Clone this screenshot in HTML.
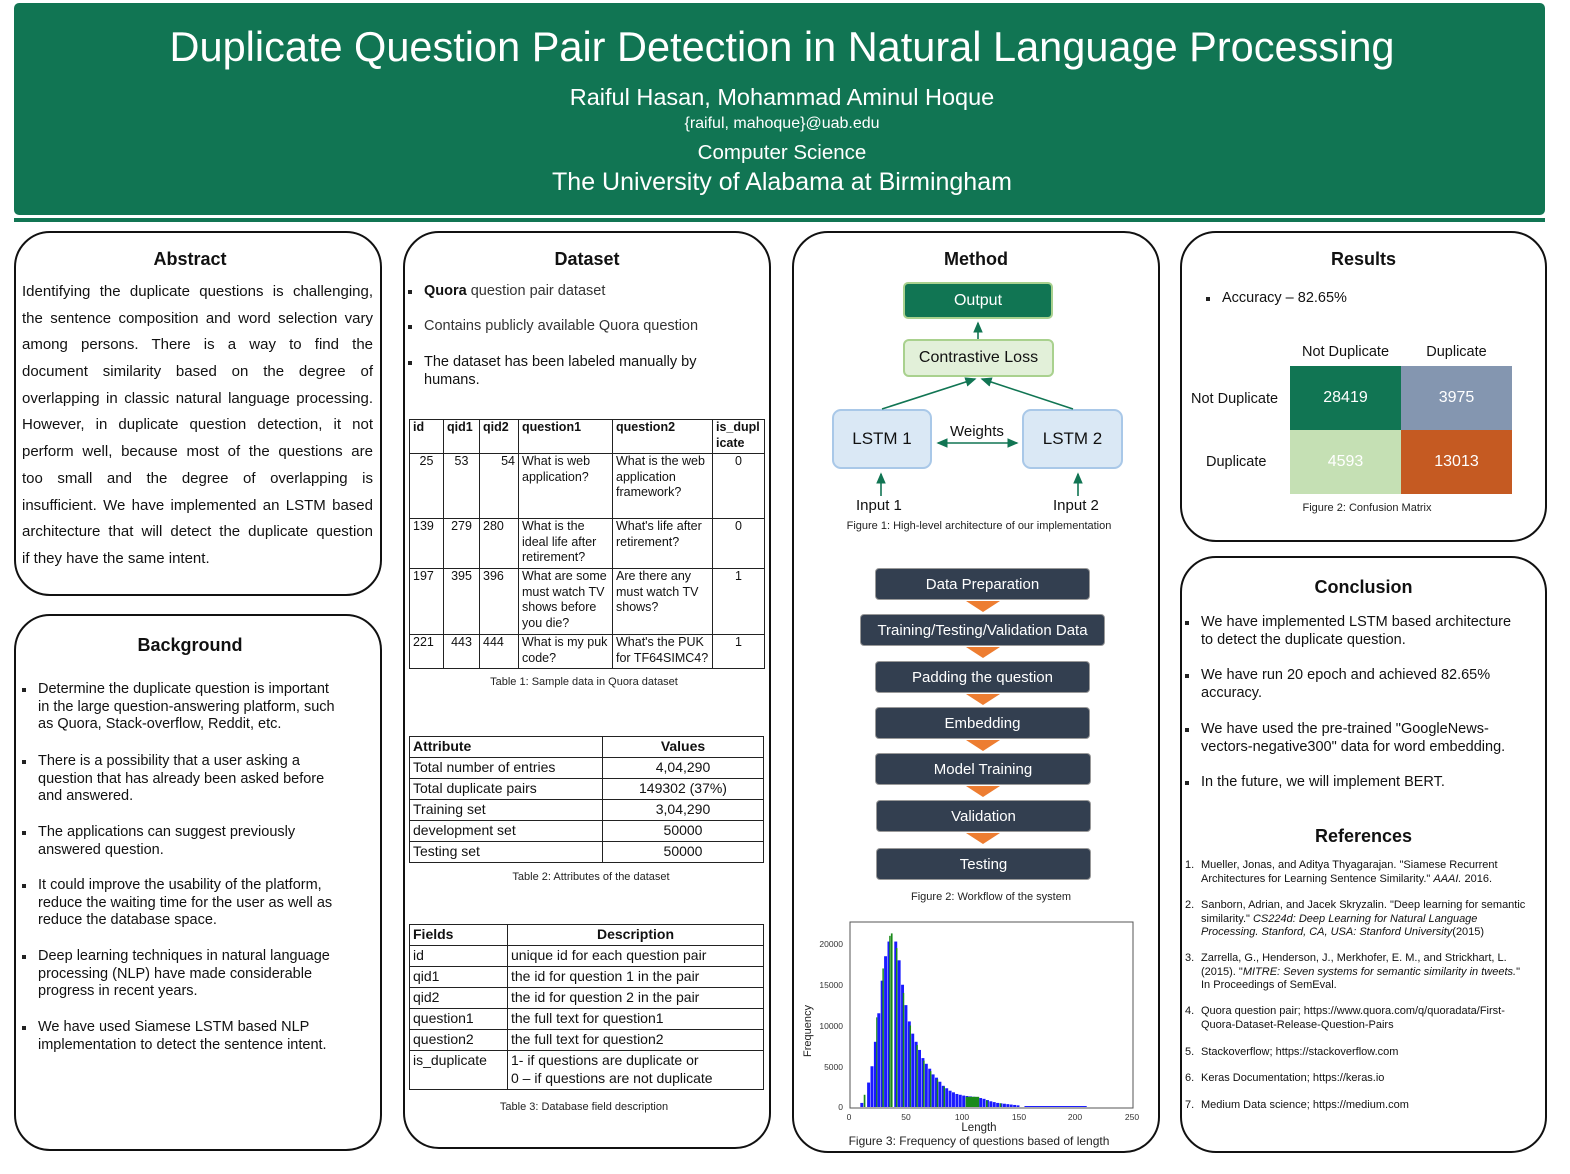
<!DOCTYPE html>
<html><head><meta charset="utf-8"><style>
*{margin:0;padding:0;box-sizing:border-box}
body{width:1570px;height:1174px;background:#fff;position:relative;overflow:hidden;font-family:"Liberation Sans",sans-serif;color:#111}
.a{position:absolute;white-space:nowrap}
.panel{position:absolute;border:2.5px solid #111;border-radius:36px}
.h{position:absolute;font-weight:bold;font-size:18px;text-align:center;line-height:20px}
.c{text-align:center}
.bul{position:absolute;font-size:14.5px;line-height:17.5px}
.bul:before{content:"";position:absolute;left:-16px;top:7px;width:4px;height:4px;background:#222}
table{border-collapse:collapse;position:absolute}
td{border:1px solid #222;vertical-align:top;padding:0 3px}
.wf{position:absolute;background:#333f50;color:#fff;font-size:15px;text-align:center;border-radius:4px;line-height:32px;height:32px;border:1px solid #999}
.tri{position:absolute;left:966px;width:0;height:0;border-left:17px solid transparent;border-right:17px solid transparent;border-top:11px solid #ed7d31}
.cap{position:absolute;font-size:11px;text-align:center;color:#222}
.ab div{text-align:justify;text-align-last:justify;height:26.7px;line-height:26.7px}
.ref{position:absolute;font-size:11px;line-height:13.5px;left:1201px;white-space:nowrap}
.ref span{position:absolute;left:-16px}
</style></head><body>
<div class="a" style="left:14px;top:3px;width:1531px;height:212px;background:#117553;border-radius:5px"></div>
<div class="a" style="left:14px;top:218px;width:1531px;height:4px;background:#117553"></div>
<div class="a c" style="left:14px;width:1536px;top:23px;font-size:41.5px;color:#fff;line-height:48px">Duplicate Question Pair Detection in Natural Language Processing</div>
<div class="a c" style="left:14px;width:1536px;top:83px;font-size:23.5px;color:#fff;line-height:28px">Raiful Hasan, Mohammad Aminul Hoque</div>
<div class="a c" style="left:14px;width:1536px;top:114px;font-size:16px;color:#fff;line-height:20px">{raiful, mahoque}@uab.edu</div>
<div class="a c" style="left:14px;width:1536px;top:141px;font-size:20.5px;color:#fff;line-height:24px">Computer Science</div>
<div class="a c" style="left:14px;width:1536px;top:167px;font-size:25px;color:#fff;line-height:30px">The University of Alabama at Birmingham</div>

<div class="panel" style="left:14px;top:231px;width:368px;height:365px"></div>
<div class="panel" style="left:14px;top:614px;width:368px;height:537px"></div>
<div class="panel" style="left:403px;top:231px;width:368px;height:918px"></div>
<div class="panel" style="left:792px;top:231px;width:368px;height:922px"></div>
<div class="panel" style="left:1180px;top:231px;width:367px;height:311px"></div>
<div class="panel" style="left:1180px;top:556px;width:367px;height:597px"></div>

<div class="h" style="left:6px;width:368px;top:249px">Abstract</div>
<div class="a ab" style="left:22px;top:279px;width:351px;font-size:15px;white-space:normal">
<div>Identifying the duplicate questions is challenging,</div>
<div>the sentence composition and word selection vary</div>
<div>among persons. There is a way to find the</div>
<div>document similarity based on the degree of</div>
<div>overlapping in classic natural language processing.</div>
<div>However, in duplicate question detection, it not</div>
<div>perform well, because most of the questions are</div>
<div>too small and the degree of overlapping is</div>
<div>insufficient. We have implemented an LSTM based</div>
<div>architecture that will detect the duplicate question</div>
<div style="text-align-last:left">if they have the same intent.</div>
</div>

<div class="h" style="left:6px;width:368px;top:635px">Background</div>
<div class="bul" style="left:38px;top:681px">Determine the duplicate question is important<br>in the large question-answering platform, such<br>as Quora, Stack-overflow, Reddit, etc.</div>
<div class="bul" style="left:38px;top:753px">There is a possibility that a user asking a<br>question that has already been asked before<br>and answered.</div>
<div class="bul" style="left:38px;top:824px">The applications can suggest previously<br>answered question.</div>
<div class="bul" style="left:38px;top:877px">It could improve the usability of the platform,<br>reduce the waiting time for the user as well as<br>reduce the database space.</div>
<div class="bul" style="left:38px;top:948px">Deep learning techniques in natural language<br>processing (NLP) have made considerable<br>progress in recent years.</div>
<div class="bul" style="left:38px;top:1019px">We have used Siamese LSTM based NLP<br>implementation to detect the sentence intent.</div>

<div class="h" style="left:403px;width:368px;top:249px">Dataset</div>
<div class="bul" style="left:424px;top:283px;color:#333"><b style="color:#111">Quora</b> question pair dataset</div>
<div class="bul" style="left:424px;top:318px;color:#333">Contains publicly available Quora question</div>
<div class="bul" style="left:424px;top:354px">The dataset has been labeled manually by<br>humans.</div>

<table style="left:409px;top:419px;width:356px;font-size:12.5px;line-height:15.5px">
<tr style="height:34px;font-weight:bold"><td style="width:34px">id</td><td style="width:36px">qid1</td><td style="width:39px">qid2</td><td style="width:94px">question1</td><td style="width:100px">question2</td><td>is_dupl<br>icate</td></tr>
<tr style="height:65px"><td class="c">25</td><td class="c">53</td><td style="text-align:right">54</td><td>What is web application?</td><td>What is the web application framework?</td><td class="c">0</td></tr>
<tr style="height:50px"><td>139</td><td class="c">279</td><td>280</td><td>What is the ideal life after retirement?</td><td>What's life after retirement?</td><td class="c">0</td></tr>
<tr style="height:66px"><td>197</td><td class="c">395</td><td>396</td><td>What are some must watch TV shows before you die?</td><td>Are there any must watch TV shows?</td><td class="c">1</td></tr>
<tr style="height:34px"><td>221</td><td class="c">443</td><td>444</td><td>What is my puk code?</td><td>What's the PUK for TF64SIMC4?</td><td class="c">1</td></tr>
</table>
<div class="cap" style="left:403px;width:362px;top:676px">Table 1: Sample data in Quora dataset</div>

<table style="left:409px;top:736px;width:355px;font-size:14px;line-height:19px">
<tr style="font-weight:bold;height:21px"><td style="width:193px">Attribute</td><td class="c">Values</td></tr>
<tr style="height:21px"><td>Total number of entries</td><td class="c">4,04,290</td></tr>
<tr style="height:21px"><td>Total duplicate pairs</td><td class="c">149302 (37%)</td></tr>
<tr style="height:21px"><td>Training set</td><td class="c">3,04,290</td></tr>
<tr style="height:21px"><td>development set</td><td class="c">50000</td></tr>
<tr style="height:21px"><td>Testing set</td><td class="c">50000</td></tr>
</table>
<div class="cap" style="left:403px;width:376px;top:871px">Table 2: Attributes of the dataset</div>

<table style="left:409px;top:924px;width:355px;font-size:14px;line-height:18px">
<tr style="font-weight:bold;height:21px"><td style="width:98px">Fields</td><td class="c">Description</td></tr>
<tr style="height:21px"><td>id</td><td>unique id for each question pair</td></tr>
<tr style="height:21px"><td>qid1</td><td>the id for question 1 in the pair</td></tr>
<tr style="height:21px"><td>qid2</td><td>the id for question 2 in the pair</td></tr>
<tr style="height:21px"><td>question1</td><td>the full text for question1</td></tr>
<tr style="height:21px"><td>question2</td><td>the full text for question2</td></tr>
<tr style="height:39px"><td>is_duplicate</td><td>1- if questions are duplicate or<br>0 – if questions are not duplicate</td></tr>
</table>
<div class="cap" style="left:403px;width:362px;top:1101px">Table 3: Database field description</div>

<div class="h" style="left:792px;width:368px;top:249px">Method</div>
<div class="a c" style="left:903px;top:282px;width:150px;height:37px;background:#117553;border:2px solid #a9d18e;border-radius:5px;color:#fff;font-size:16px;line-height:33px">Output</div>
<div class="a c" style="left:903px;top:339px;width:151px;height:38px;background:#e2f0d9;border:2px solid #a9d18e;border-radius:6px;font-size:16px;line-height:34px">Contrastive Loss</div>
<div class="a c" style="left:832px;top:409px;width:100px;height:60px;background:#dae8f5;border:2px solid #a9c8e8;border-radius:9px;font-size:17px;line-height:56px">LSTM 1</div>
<div class="a c" style="left:1022px;top:409px;width:101px;height:60px;background:#dae8f5;border:2px solid #a9c8e8;border-radius:9px;font-size:17px;line-height:56px">LSTM 2</div>
<svg class="a" style="left:0;top:0" width="1570" height="1174">
<defs><marker id="m" markerWidth="8" markerHeight="8" refX="6" refY="4" orient="auto-start-reverse"><path d="M0,1 L7,4 L0,7z" fill="#117553"/></marker></defs>
<g stroke="#117553" stroke-width="1.6" fill="none">
<line x1="978" y1="339" x2="978" y2="323" marker-end="url(#m)"/>
<line x1="882" y1="409" x2="975" y2="379" marker-end="url(#m)"/>
<line x1="1073" y1="409" x2="982" y2="379" marker-end="url(#m)"/>
<line x1="938" y1="443" x2="1017" y2="443" marker-start="url(#m)" marker-end="url(#m)"/>
<line x1="881" y1="496" x2="881" y2="474" marker-end="url(#m)"/>
<line x1="1078" y1="496" x2="1078" y2="474" marker-end="url(#m)"/>
</g>
<rect x="850" y="922" width="283" height="186" fill="none" stroke="#555" stroke-width="1"/>
<g transform="translate(849,1107) scale(1.132,-8.15)">
<g fill="#1a1aff">
<rect x="10" y="0" width="2.6" height="0.5"/><rect x="16" y="0" width="2.6" height="3"/><rect x="22" y="0" width="2.6" height="8"/><rect x="28" y="0" width="2.6" height="15.5"/><rect x="34" y="0" width="2.6" height="20.3"/><rect x="40" y="0" width="2.6" height="20.3"/><rect x="46" y="0" width="2.6" height="15"/><rect x="52" y="0" width="2.6" height="10.5"/><rect x="58" y="0" width="2.6" height="8"/><rect x="64" y="0" width="2.6" height="6"/><rect x="70" y="0" width="2.6" height="4.7"/><rect x="76" y="0" width="2.6" height="3.6"/><rect x="82" y="0" width="2.6" height="2.6"/><rect x="88" y="0" width="2.6" height="2"/><rect x="94" y="0" width="2.6" height="1.6"/><rect x="100" y="0" width="2.6" height="1.4"/><rect x="106" y="0" width="2.6" height="1.3"/><rect x="112" y="0" width="2.6" height="1.2"/><rect x="118" y="0" width="2.6" height="1"/><rect x="124" y="0" width="2.6" height="0.7"/><rect x="130" y="0" width="2.6" height="0.5"/><rect x="136" y="0" width="2.6" height="0.4"/><rect x="142" y="0" width="2.6" height="0.3"/><rect x="148" y="0" width="2.6" height="0.2"/><rect x="155" y="0" width="55" height="0.12"/>
<rect x="19" y="0" width="2.6" height="5"/><rect x="25" y="0" width="2.6" height="11.5"/><rect x="31" y="0" width="2.6" height="18.5"/><rect x="43" y="0" width="2.6" height="18"/><rect x="49" y="0" width="2.6" height="12.5"/><rect x="55" y="0" width="2.6" height="9"/><rect x="61" y="0" width="2.6" height="7"/><rect x="67" y="0" width="2.6" height="5.3"/><rect x="73" y="0" width="2.6" height="4"/><rect x="79" y="0" width="2.6" height="3.1"/><rect x="85" y="0" width="2.6" height="2.3"/><rect x="91" y="0" width="2.6" height="1.8"/><rect x="97" y="0" width="2.6" height="1.5"/><rect x="103" y="0" width="2.6" height="1.35"/><rect x="109" y="0" width="2.6" height="1.25"/><rect x="115" y="0" width="2.6" height="1.1"/><rect x="121" y="0" width="2.6" height="0.85"/><rect x="127" y="0" width="2.6" height="0.6"/><rect x="133" y="0" width="2.6" height="0.45"/><rect x="139" y="0" width="2.6" height="0.35"/><rect x="145" y="0" width="2.6" height="0.25"/>
</g>
<g fill="#1a8a1a">
<rect x="13" y="0" width="1.5" height="1.5"/><rect x="24" y="0" width="1" height="11"/><rect x="29.5" y="0" width="1.3" height="17"/><rect x="35.5" y="0" width="1.3" height="21"/><rect x="37" y="0" width="1.5" height="21.3"/><rect x="41.5" y="0" width="1.3" height="19.5"/><rect x="47.5" y="0" width="1.3" height="14"/><rect x="53.5" y="0" width="1.3" height="10"/><rect x="59.5" y="0" width="1.3" height="7.6"/><rect x="65.5" y="0" width="1.3" height="5.7"/><rect x="71.5" y="0" width="1.3" height="4.4"/><rect x="77.5" y="0" width="1.3" height="3.4"/><rect x="83.5" y="0" width="1.3" height="2.5"/><rect x="103" y="0" width="12" height="1.25"/><rect x="121" y="0" width="1.5" height="0.8"/><rect x="133" y="0" width="1.5" height="0.45"/>
</g></g>
<g font-family="Liberation Sans" font-size="8.5" fill="#333">
<text x="843" y="947" text-anchor="end">20000</text><text x="843" y="988" text-anchor="end">15000</text><text x="843" y="1029" text-anchor="end">10000</text><text x="843" y="1070" text-anchor="end">5000</text><text x="843" y="1110" text-anchor="end">0</text>
<text x="849" y="1120" text-anchor="middle">0</text><text x="906" y="1120" text-anchor="middle">50</text><text x="962" y="1120" text-anchor="middle">100</text><text x="1019" y="1120" text-anchor="middle">150</text><text x="1075" y="1120" text-anchor="middle">200</text><text x="1132" y="1120" text-anchor="middle">250</text>
</g>
<text x="979" y="1131" font-family="Liberation Sans" font-size="11.5" text-anchor="middle" fill="#222">Length</text>
<text transform="translate(811,1031) rotate(-90)" font-family="Liberation Sans" font-size="11" text-anchor="middle" fill="#222">Frequency</text>
</svg>
<div class="a" style="left:950px;top:423px;font-size:15px">Weights</div>
<div class="a" style="left:856px;top:497px;font-size:15px">Input 1</div>
<div class="a" style="left:1053px;top:497px;font-size:15px">Input 2</div>
<div class="cap" style="left:792px;width:374px;top:520px">Figure 1: High-level architecture of our implementation</div>

<div class="wf" style="left:875px;top:568px;width:215px">Data Preparation</div>
<div class="tri" style="top:601px"></div>
<div class="wf" style="left:860px;top:614px;width:245px">Training/Testing/Validation Data</div>
<div class="tri" style="top:647px"></div>
<div class="wf" style="left:875px;top:661px;width:215px">Padding the question</div>
<div class="tri" style="top:694px"></div>
<div class="wf" style="left:875px;top:707px;width:215px">Embedding</div>
<div class="tri" style="top:740px"></div>
<div class="wf" style="left:875px;top:753px;width:216px">Model Training</div>
<div class="tri" style="top:786px"></div>
<div class="wf" style="left:876px;top:800px;width:215px">Validation</div>
<div class="tri" style="top:833px"></div>
<div class="wf" style="left:876px;top:848px;width:215px">Testing</div>
<div class="cap" style="left:792px;width:398px;top:891px">Figure 2: Workflow of the system</div>
<div class="a c" style="left:792px;width:374px;top:1134px;font-size:12px;color:#222">Figure 3: Frequency of questions based of length</div>

<div class="h" style="left:1180px;width:367px;top:249px">Results</div>
<div class="bul" style="left:1222px;top:290px">Accuracy – 82.65%</div>
<div class="a c" style="left:1290px;width:111px;top:344px;font-size:14.5px">Not Duplicate</div>
<div class="a c" style="left:1401px;width:111px;top:344px;font-size:14.5px">Duplicate</div>
<div class="a" style="left:1191px;top:391px;font-size:14.5px">Not Duplicate</div>
<div class="a" style="left:1206px;top:454px;font-size:14.5px">Duplicate</div>
<div class="a c" style="left:1290px;top:366px;width:111px;height:64px;background:#117553;color:#fff;font-size:16px;line-height:64px">28419</div>
<div class="a c" style="left:1401px;top:366px;width:111px;height:64px;background:#8496b0;color:#fff;font-size:16px;line-height:64px">3975</div>
<div class="a c" style="left:1290px;top:430px;width:111px;height:64px;background:#c5e0b4;color:#fff;font-size:16px;line-height:64px">4593</div>
<div class="a c" style="left:1401px;top:430px;width:111px;height:64px;background:#c55a22;color:#fff;font-size:16px;line-height:64px">13013</div>
<div class="cap" style="left:1290px;width:154px;top:502px">Figure 2: Confusion Matrix</div>

<div class="h" style="left:1180px;width:367px;top:577px">Conclusion</div>
<div class="bul" style="left:1201px;top:614px">We have implemented LSTM based architecture<br>to detect the duplicate question.</div>
<div class="bul" style="left:1201px;top:667px">We have run 20 epoch and achieved 82.65%<br>accuracy.</div>
<div class="bul" style="left:1201px;top:721px">We have used the pre-trained "GoogleNews-<br>vectors-negative300" data for word embedding.</div>
<div class="bul" style="left:1201px;top:774px">In the future, we will implement BERT.</div>
<div class="h" style="left:1180px;width:367px;top:826px">References</div>
<div class="ref" style="top:859px"><span>1.</span>Mueller, Jonas, and Aditya Thyagarajan. "Siamese Recurrent<br>Architectures for Learning Sentence Similarity." <i>AAAI.</i> 2016.</div>
<div class="ref" style="top:899px"><span>2.</span>Sanborn, Adrian, and Jacek Skryzalin. "Deep learning for semantic<br>similarity." <i>CS224d: Deep Learning for Natural Language<br>Processing. Stanford, CA, USA: Stanford University</i>(2015)</div>
<div class="ref" style="top:952px"><span>3.</span>Zarrella, G., Henderson, J., Merkhofer, E. M., and Strickhart, L.<br>(2015). "<i>MITRE: Seven systems for semantic similarity in tweets.</i>"<br>In Proceedings of SemEval.</div>
<div class="ref" style="top:1005px"><span>4.</span>Quora question pair; https://www.quora.com/q/quoradata/First-<br>Quora-Dataset-Release-Question-Pairs</div>
<div class="ref" style="top:1046px"><span>5.</span>Stackoverflow; https://stackoverflow.com</div>
<div class="ref" style="top:1072px"><span>6.</span>Keras Documentation; https://keras.io</div>
<div class="ref" style="top:1099px"><span>7.</span>Medium Data science; https://medium.com</div>
</body></html>
